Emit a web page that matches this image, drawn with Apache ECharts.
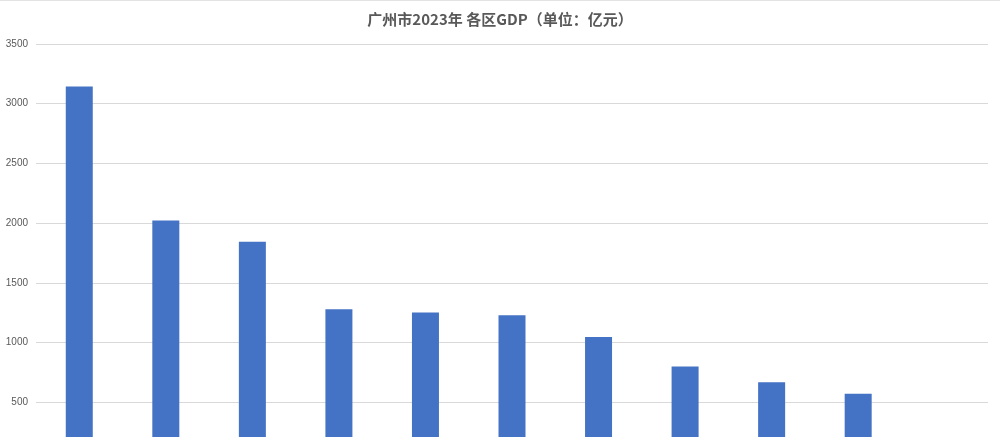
<!DOCTYPE html>
<html>
<head>
<meta charset="utf-8">
<script src="https://cdn.jsdelivr.net/npm/echarts@6/dist/echarts.min.js"></script>
<style>
html,body{margin:0;padding:0;background:#fff;}
#chart{width:1000px;height:437px;}
</style>
</head>
<body>
<div id="chart"></div>
<script>
var titleText = '广州市2023年 各区GDP（单位：亿元）';
var districts = ['天河区','黄埔区','越秀区','番禺区','白云区','海珠区','南沙区','花都区','增城区','荔湾区','从化区'];
var gdpValues = [3145, 2022, 1844, 1280, 1251, 1229, 1047, 799, 668, 572, 200];
var yTicks = { min: 0, max: 3500, interval: 500 };

var chart = echarts.init(document.getElementById('chart'));
chart.setOption({
  backgroundColor: '#ffffff',
  animation: false,
  graphic: [{
    type: 'rect',
    left: 0,
    top: 0,
    shape: { width: 1000, height: 1 },
    style: { fill: '#e3e3e3' },
    silent: true
  }],
  title: {
    text: titleText,
    left: 'center',
    top: 7,
    textStyle: {
      fontFamily: '"Noto Sans CJK SC", sans-serif',
      fontSize: 15,
      fontWeight: 'bold',
      color: '#595959'
    }
  },
  grid: { left: 36, right: 12, top: 44, height: 418, containLabel: false, outerBoundsMode: 'none' },
  xAxis: {
    type: 'category',
    data: districts,
    axisTick: { show: false },
    axisLine: { lineStyle: { color: '#d9d9d9' } },
    axisLabel: { color: '#595959', fontSize: 10 }
  },
  yAxis: {
    type: 'value',
    min: yTicks.min,
    max: yTicks.max,
    interval: yTicks.interval,
    axisLine: { show: false },
    axisTick: { show: false },
    axisLabel: {
      color: '#595959',
      fontSize: 10,
      margin: 8,
      fontFamily: '"Liberation Sans", Arial, sans-serif',
      formatter: function (v) { return String(v); }
    },
    splitLine: { lineStyle: { color: '#d9d9d9', width: 1 } }
  },
  series: [{
    type: 'bar',
    data: gdpValues,
    barWidth: 27,
    itemStyle: { color: '#4472C4' }
  }]
});
</script>
</body>
</html>
